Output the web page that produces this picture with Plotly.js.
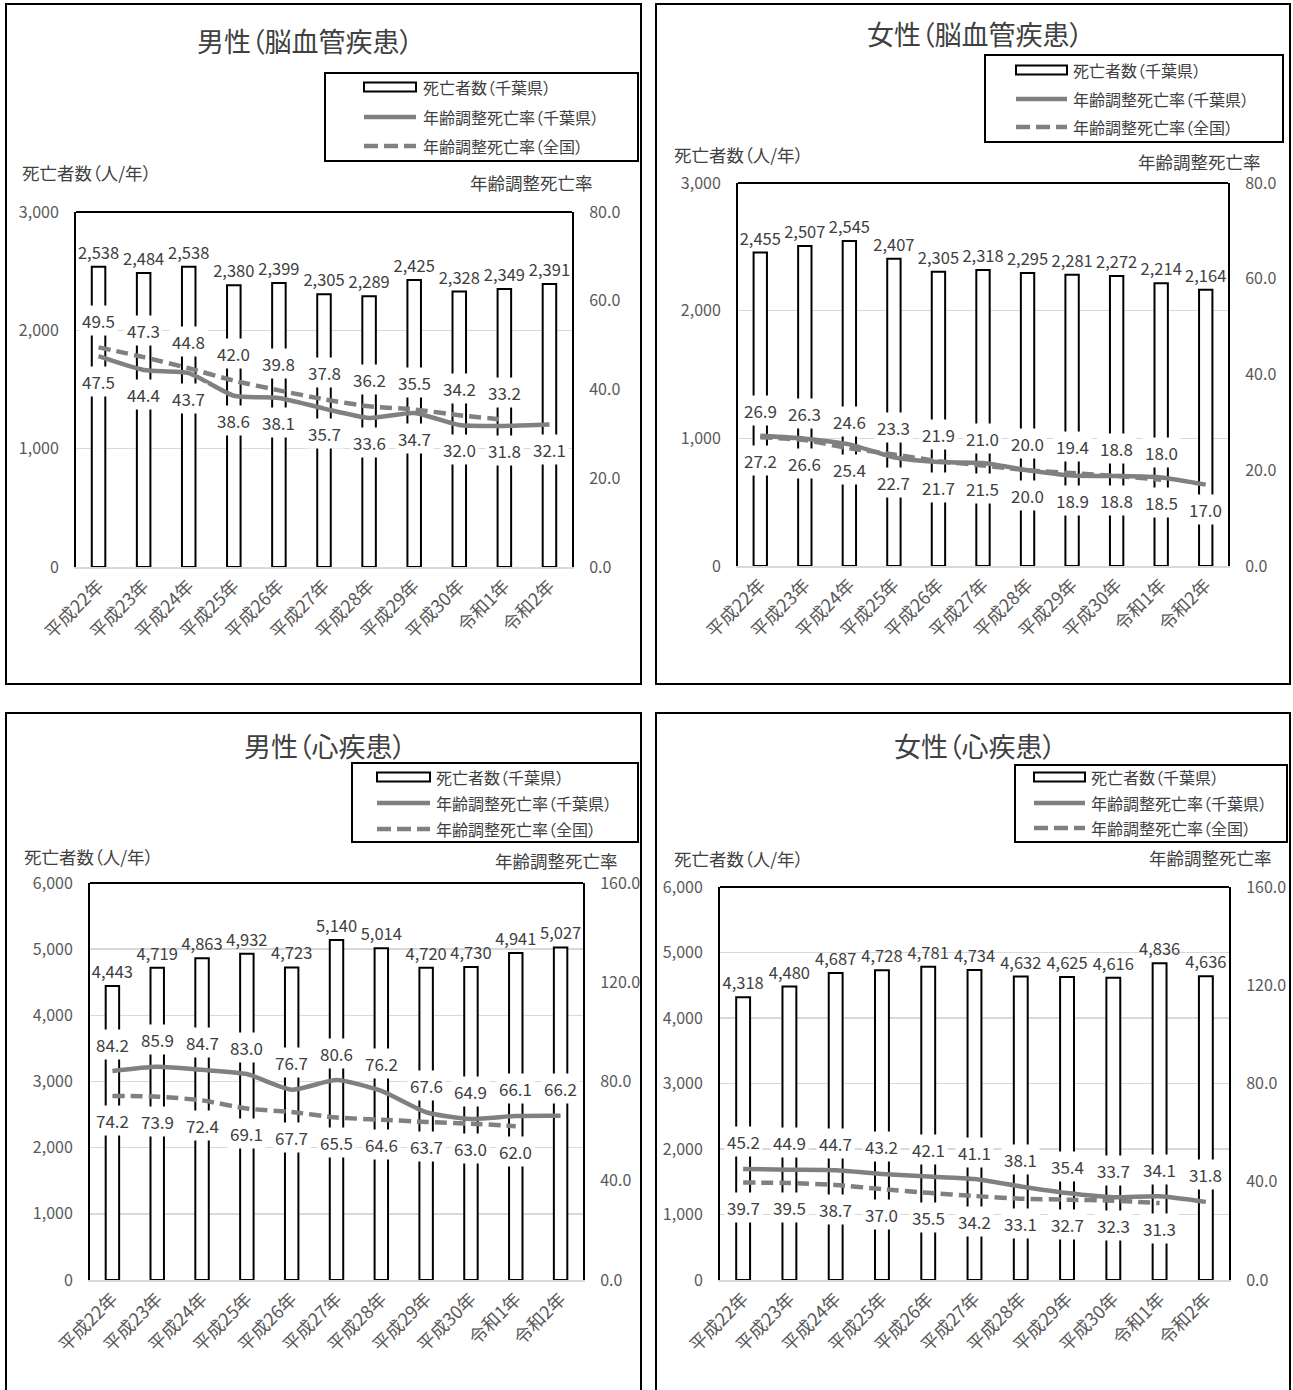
<!DOCTYPE html>
<html>
<head>
<meta charset="utf-8">
<script src="https://cdn.plot.ly/plotly-3.0.1.min.js"></script>
<style>
html,body{margin:0;padding:0;background:#fff;}
#chart{width:1293px;height:1390px;}
svg text{font-feature-settings:"palt" 1;}
</style>
</head>
<body>
<div id="chart"></div>
<script>
// ---------------- DATA ----------------
const categories = ['平成22年','平成23年','平成24年','平成25年','平成26年','平成27年','平成28年','平成29年','平成30年','令和1年','令和2年'];
const nationalCategories = categories.slice(0, 10);

const panelTitles = ['男性（脳血管疾患）','女性（脳血管疾患）','男性（心疾患）','女性（心疾患）'];
const seriesNames = ['死亡者数（千葉県）','年齢調整死亡率（千葉県）','年齢調整死亡率（全国）'];
const leftAxisLabel = '死亡者数（人/年）';
const rightAxisLabel = '年齢調整死亡率';

// 男性（脳血管疾患）
const cvMaleDeaths   = [2538, 2484, 2538, 2380, 2399, 2305, 2289, 2425, 2328, 2349, 2391];
const cvMaleChiba    = [47.5, 44.4, 43.7, 38.6, 38.1, 35.7, 33.6, 34.7, 32.0, 31.8, 32.1];
const cvMaleNational = [49.5, 47.3, 44.8, 42.0, 39.8, 37.8, 36.2, 35.5, 34.2, 33.2];
// 女性（脳血管疾患）
const cvFemaleDeaths   = [2455, 2507, 2545, 2407, 2305, 2318, 2295, 2281, 2272, 2214, 2164];
const cvFemaleChiba    = [27.2, 26.6, 25.4, 22.7, 21.7, 21.5, 20.0, 18.9, 18.8, 18.5, 17.0];
const cvFemaleNational = [26.9, 26.3, 24.6, 23.3, 21.9, 21.0, 20.0, 19.4, 18.8, 18.0];
// 男性（心疾患）
const hdMaleDeaths   = [4443, 4719, 4863, 4932, 4723, 5140, 5014, 4720, 4730, 4941, 5027];
const hdMaleChiba    = [84.2, 85.9, 84.7, 83.0, 76.7, 80.6, 76.2, 67.6, 64.9, 66.1, 66.2];
const hdMaleNational = [74.2, 73.9, 72.4, 69.1, 67.7, 65.5, 64.6, 63.7, 63.0, 62.0];
// 女性（心疾患）
const hdFemaleDeaths   = [4318, 4480, 4687, 4728, 4781, 4734, 4632, 4625, 4616, 4836, 4636];
const hdFemaleChiba    = [45.2, 44.9, 44.7, 43.2, 42.1, 41.1, 38.1, 35.4, 33.7, 34.1, 31.8];
const hdFemaleNational = [39.7, 39.5, 38.7, 37.0, 35.5, 34.2, 33.1, 32.7, 32.3, 31.3];

const leftMax  = [3000, 3000, 6000, 6000];
const rightMax = [80, 80, 160, 160];
const rightDtick = [20, 20, 40, 40];

// ---------------- LAYOUT HELPERS ----------------
const W = 1293, H = 1390;
const px = v => v / W;
const py = v => 1 - v / H;
const FONT = '"Noto Sans CJK JP", "Noto Sans", sans-serif';
const TXT = '#404040', TICK = '#595959', GRID = '#d9d9d9', LINEC = '#808080';
const DASH = '14px,6px';

// legend geometry: box [x0,y0,x1,y1], symbol x-range, row centres, text x
const panels = [
  {deaths: cvMaleDeaths, chiba: cvMaleChiba, national: cvMaleNational, natAbove: true,
   box: [6, 4, 641, 684], plot: [76, 212, 572, 567], title: [305, 40],
   leg: {box: [325, 73, 638, 161], sym: [364, 416], rows: [87, 117, 146], tx: 421},
   leftLab: [20, 172], rightLab: [595, 183]},
  {deaths: cvFemaleDeaths, chiba: cvFemaleChiba, national: cvFemaleNational, natAbove: true,
   box: [656, 4, 1290, 684], plot: [738, 183, 1228, 566], title: [975, 33],
   leg: {box: [985, 55, 1283, 142], sym: [1016, 1067], rows: [70, 99, 127], tx: 1071},
   leftLab: [672, 155], rightLab: [1263, 161]},
  {deaths: hdMaleDeaths, chiba: hdMaleChiba, national: hdMaleNational, natAbove: false,
   box: [6, 713, 641, 1400], plot: [90, 883, 583, 1280], title: [325, 745],
   leg: {box: [352, 763, 638, 842], sym: [377, 430], rows: [777, 803, 829], tx: 434},
   leftLab: [22, 856], rightLab: [620, 860]},
  {deaths: hdFemaleDeaths, chiba: hdFemaleChiba, national: hdFemaleNational, natAbove: false,
   box: [656, 713, 1290, 1400], plot: [720, 887, 1229, 1280], title: [975, 745],
   leg: {box: [1015, 765, 1287, 842], sym: [1034, 1085], rows: [777, 803, 828], tx: 1089},
   leftLab: [672, 858], rightLab: [1274, 857]}
];

const data = [];
const layout = {
  width: W, height: H,
  margin: {l: 0, r: 0, t: 0, b: 0},
  paper_bgcolor: '#fff', plot_bgcolor: 'rgba(0,0,0,0)',
  font: {family: FONT, color: TXT},
  showlegend: false,
  barmode: 'group',
  annotations: [], shapes: []
};

panels.forEach((p, i) => {
  const n = i + 1;
  const xa = n === 1 ? 'x' : 'x' + n;
  const yl = i === 0 ? 'y' : 'y' + (2 * i + 1);
  const yr = 'y' + (2 * i + 2);
  const xKey = n === 1 ? 'xaxis' : 'xaxis' + n;
  const ylKey = i === 0 ? 'yaxis' : 'yaxis' + (2 * i + 1);
  const yrKey = 'yaxis' + (2 * i + 2);

  data.push({
    type: 'bar', x: categories, y: p.deaths, xaxis: xa, yaxis: yl,
    name: seriesNames[0], width: 0.3,
    marker: {color: '#ffffff', line: {color: '#000000', width: 2}},
    texttemplate: '%{y:,}', textposition: 'outside', constraintext: 'none', cliponaxis: false,
    textfont: {size: 16.5, color: TXT, family: FONT},
    hoverinfo: 'skip'
  });
  data.push({
    type: 'scatter', mode: 'lines', x: categories, y: p.chiba, xaxis: xa, yaxis: yr,
    name: seriesNames[1],
    line: {color: LINEC, width: 4.5, shape: 'spline', smoothing: 0.6}
  });
  data.push({
    type: 'scatter', mode: 'lines', x: nationalCategories, y: p.national, xaxis: xa, yaxis: yr,
    name: seriesNames[2],
    line: {color: LINEC, width: 4.5, dash: '12px,6px', shape: 'spline', smoothing: 0.6}
  });

  const [l, t, r, b] = p.plot;
  layout[xKey] = {
    domain: [px(l), px(r)], anchor: yl, type: 'category',
    tickangle: -45, tickfont: {size: 18, color: TICK, family: FONT},
    showline: true, linecolor: GRID, linewidth: 1.5, ticks: '', showgrid: false,
    range: [-0.5, 10.5], fixedrange: true
  };
  layout[ylKey] = {
    domain: [py(b), py(t)], anchor: xa, range: [0, leftMax[i]], dtick: 1000,
    tickformat: ',', tickfont: {size: 16, color: TICK, family: FONT},
    showgrid: true, gridcolor: GRID, gridwidth: 1.5, zeroline: false,
    showline: true, linecolor: '#000', linewidth: 2, ticks: '', ticklabelstandoff: 12
  };
  layout[yrKey] = {
    overlaying: yl, side: 'right', anchor: xa, range: [0, rightMax[i]], dtick: rightDtick[i],
    tickformat: '.1f', tickfont: {size: 16, color: TICK, family: FONT},
    showgrid: false, zeroline: false,
    showline: true, linecolor: '#000', linewidth: 2, ticks: '', ticklabelstandoff: 12
  };

  // panel border
  layout.shapes.push({type: 'rect', xref: 'paper', yref: 'paper',
    x0: px(p.box[0]), x1: px(p.box[2]), y0: py(p.box[3]), y1: py(p.box[1]),
    line: {color: '#000', width: 2}, layer: 'below'});
  // top frame of plot area
  layout.shapes.push({type: 'line', xref: xa + ' domain', yref: yl + ' domain',
    x0: 0, x1: 1, y0: 1, y1: 1, line: {color: '#000', width: 2}});

  // legend (box, symbols, labels)
  const g = p.leg;
  layout.shapes.push({type: 'rect', xref: 'paper', yref: 'paper', layer: 'above',
    x0: px(g.box[0]), x1: px(g.box[2]), y0: py(g.box[3]), y1: py(g.box[1]),
    fillcolor: '#fff', line: {color: '#000', width: 2}});
  layout.shapes.push({type: 'rect', xref: 'paper', yref: 'paper', layer: 'above',
    x0: px(g.sym[0]), x1: px(g.sym[1]), y0: py(g.rows[0] + 4.5), y1: py(g.rows[0] - 4.5),
    fillcolor: '#fff', line: {color: '#000', width: 2}});
  layout.shapes.push({type: 'line', xref: 'paper', yref: 'paper', layer: 'above',
    x0: px(g.sym[0]), x1: px(g.sym[1]), y0: py(g.rows[1]), y1: py(g.rows[1]),
    line: {color: LINEC, width: 4.5}});
  layout.shapes.push({type: 'line', xref: 'paper', yref: 'paper', layer: 'above',
    x0: px(g.sym[0]), x1: px(g.sym[1]), y0: py(g.rows[2]), y1: py(g.rows[2]),
    line: {color: LINEC, width: 4.5, dash: DASH}});
  seriesNames.forEach((s, k) => layout.annotations.push({
    xref: 'paper', yref: 'paper', x: px(g.tx), y: py(g.rows[k]), text: s, showarrow: false,
    xanchor: 'left', yanchor: 'middle', font: {size: 16, color: TXT, family: FONT}}));

  // titles / axis captions
  layout.annotations.push({xref: 'paper', yref: 'paper', x: px(p.title[0]), y: py(p.title[1]),
    text: panelTitles[i], showarrow: false, xanchor: 'center', yanchor: 'middle',
    font: {size: 27, color: TXT, family: FONT}});
  layout.annotations.push({xref: 'paper', yref: 'paper', x: px(p.leftLab[0]), y: py(p.leftLab[1]),
    text: leftAxisLabel, showarrow: false, xanchor: 'left', yanchor: 'middle',
    font: {size: 17.5, color: TXT, family: FONT}});
  layout.annotations.push({xref: 'paper', yref: 'paper', x: px(p.rightLab[0]), y: py(p.rightLab[1]),
    text: rightAxisLabel, showarrow: false, xanchor: 'right', yanchor: 'middle',
    font: {size: 17.5, color: TXT, family: FONT}});

  // data labels for rates
  const chibaShift = p.natAbove ? -25 : 27;
  const natShift = p.natAbove ? 27 : -25;
  p.chiba.forEach((v, k) => layout.annotations.push({
    xref: xa, yref: yr, x: categories[k], y: v, text: v.toFixed(1), showarrow: false,
    yshift: chibaShift, bgcolor: '#fff', borderpad: 2,
    font: {size: 17, color: TXT, family: FONT}}));
  p.national.forEach((v, k) => layout.annotations.push({
    xref: xa, yref: yr, x: nationalCategories[k], y: v, text: v.toFixed(1), showarrow: false,
    yshift: natShift, bgcolor: '#fff', borderpad: 2,
    font: {size: 17, color: TXT, family: FONT}}));
});

Plotly.newPlot('chart', data, layout, {displayModeBar: false, staticPlot: true});
</script>
</body>
</html>
